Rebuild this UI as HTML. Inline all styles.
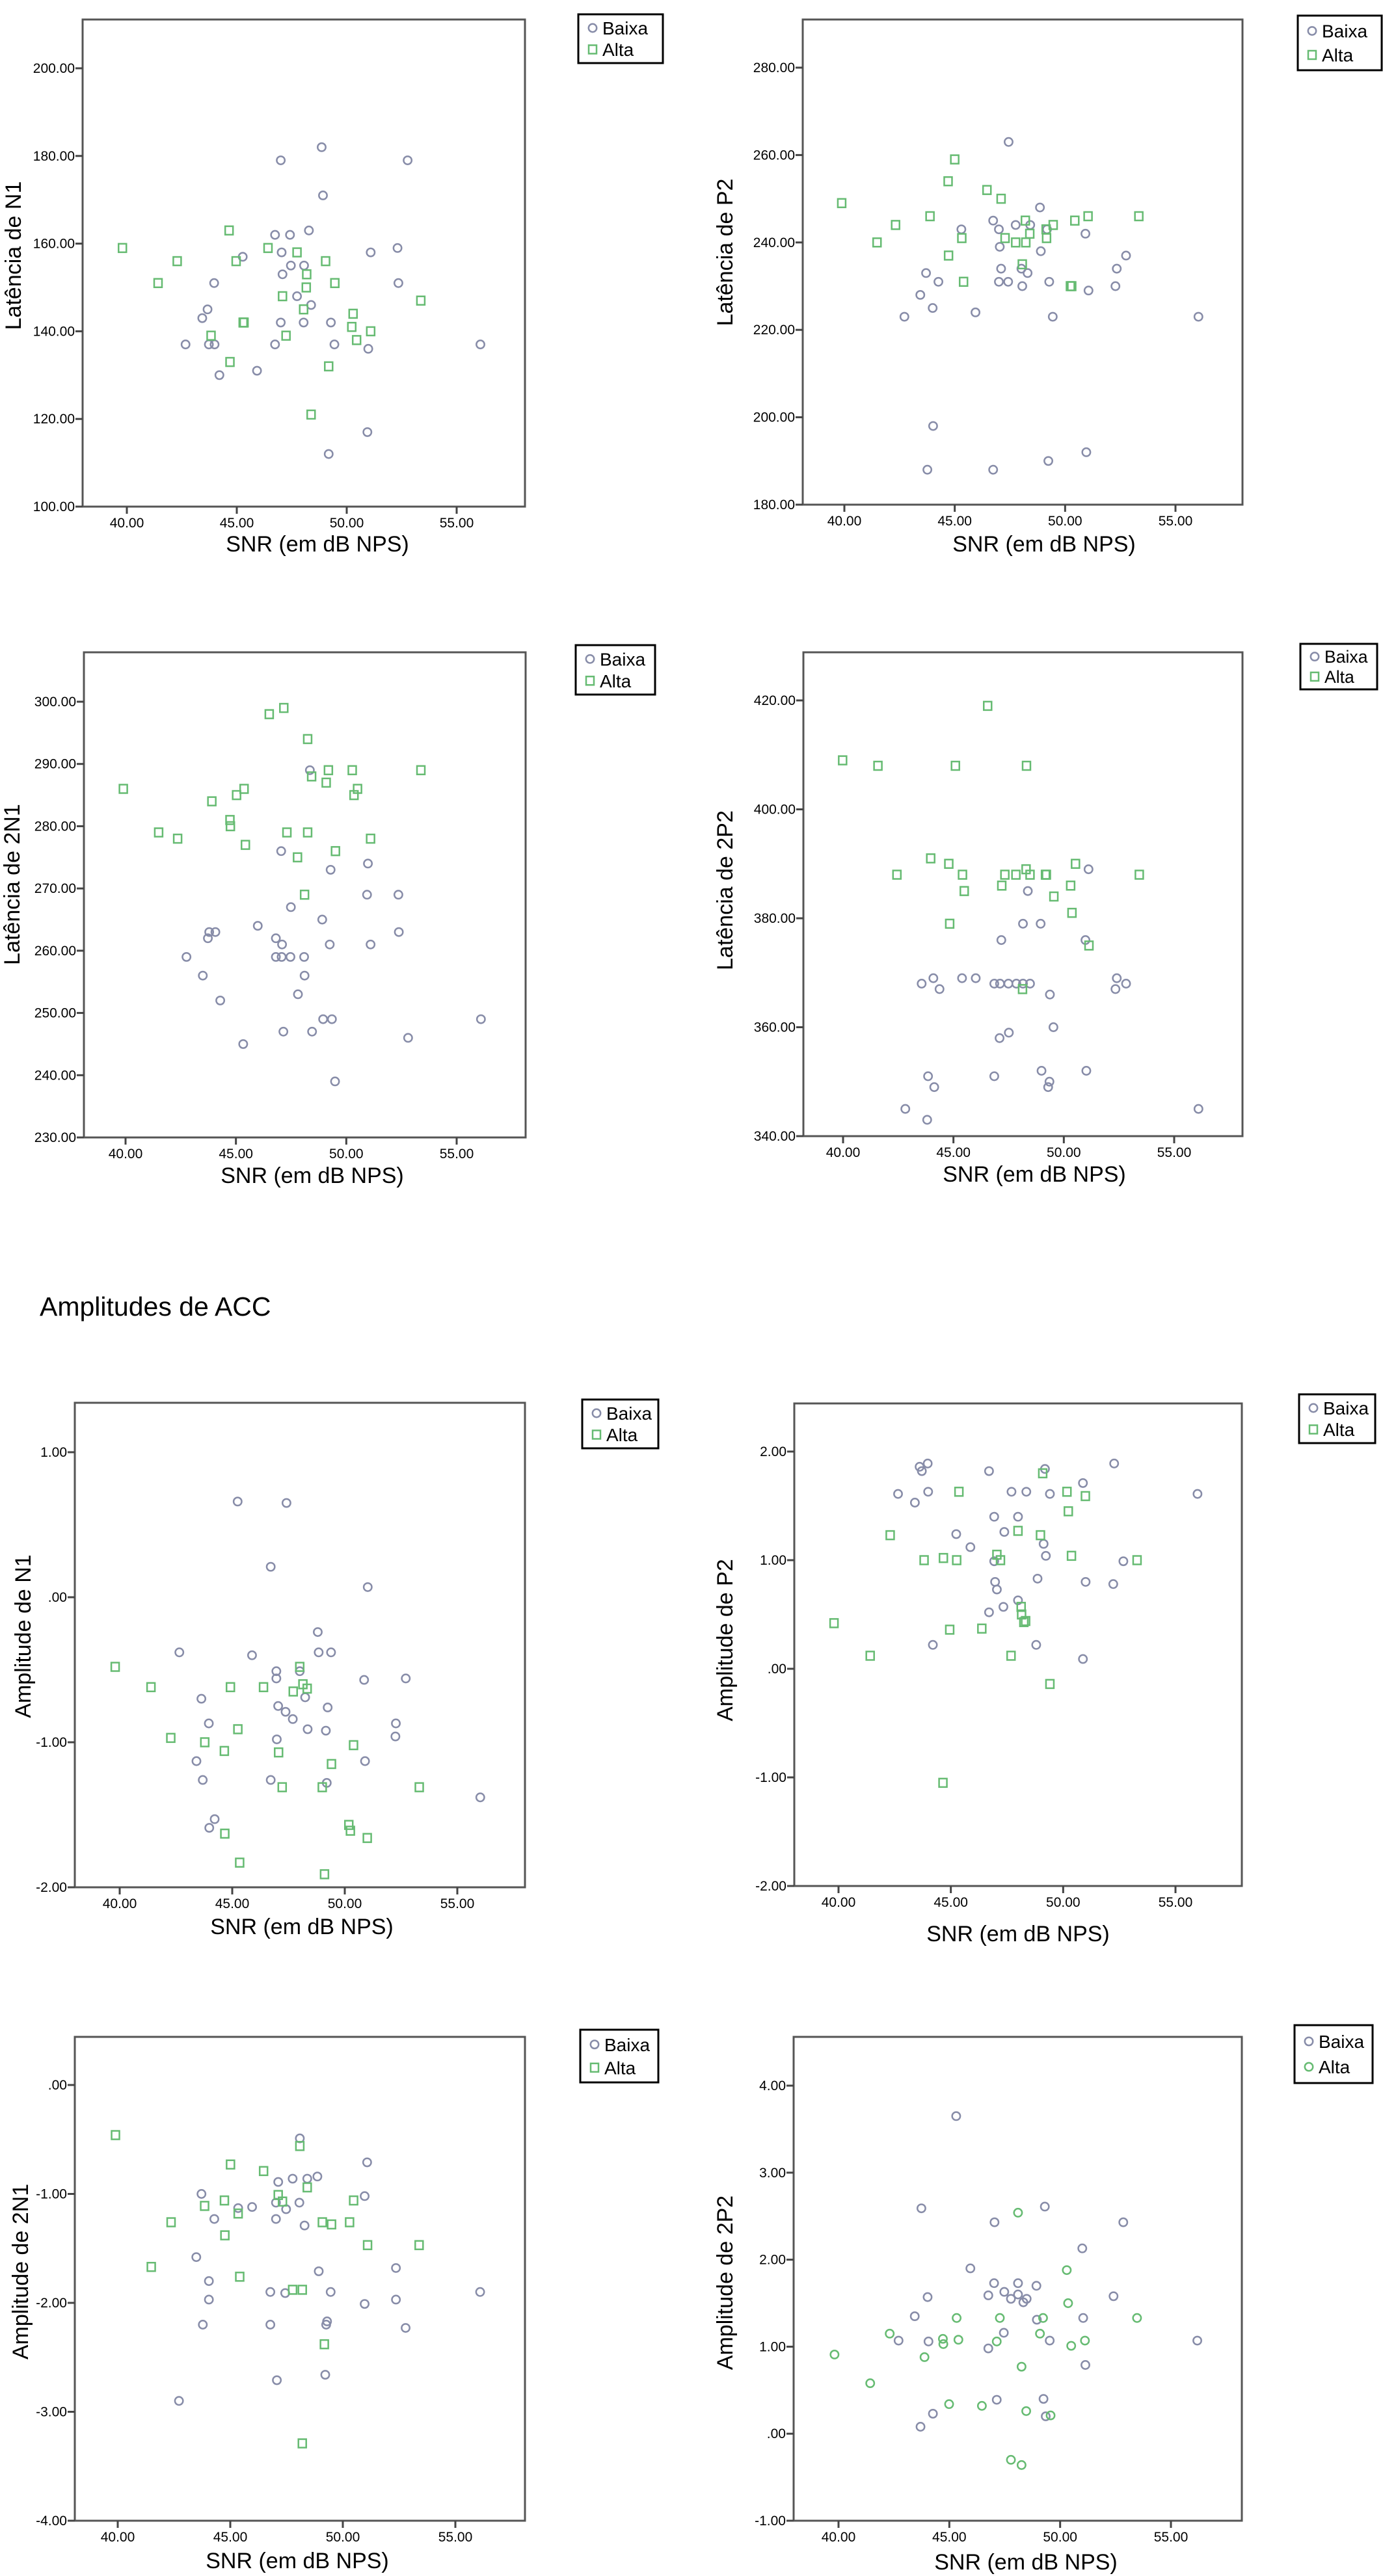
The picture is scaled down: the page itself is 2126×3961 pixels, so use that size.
<!DOCTYPE html>
<html><head><meta charset="utf-8">
<style>
html,body{margin:0;padding:0;background:#fff;}
svg{display:block;font-family:"Liberation Sans",Arial,sans-serif;}
</style></head>
<body>
<svg id="root" width="2126" height="3961" viewBox="0 0 2126 3961" xmlns="http://www.w3.org/2000/svg">
<rect x="0" y="0" width="2126" height="3961" fill="#fff"/>
<text x="61" y="2023" font-size="41" fill="#000">Amplitudes de ACC</text>
</svg>
<script>
// ---- data (SNR x values, measure y values) ----
const p1BaixaX=[48.86,47.00,52.77,48.92,48.28,46.74,47.42,47.04,51.09,52.31,45.27,47.46,48.06,47.08,43.97,52.35,47.74,48.38,43.67,43.43,47.00,48.04,49.28,42.67,43.73,43.99,46.74,49.44,50.98,56.08,45.92,44.21,50.94,49.18];
const p1BaixaY=[182,179,179,171,163,162,162,158,158,159,157,155,155,153,151,151,148,146,145,143,142,142,142,137,137,137,137,137,136,137,131,130,117,112];
const p1AltaX=[44.65,39.80,42.29,44.97,46.42,47.74,49.04,41.42,48.18,48.16,49.46,47.08,53.37,48.04,45.29,45.33,50.29,50.23,51.09,43.83,47.24,50.45,44.69,49.18,48.38];
const p1AltaY=[163,159,156,156,159,158,156,151,153,150,151,148,147,145,142,142,144,141,140,139,139,138,133,132,121];

const p2BaixaX=[47.44,48.86,46.74,45.3,47.0,47.76,48.42,49.18,50.92,47.04,48.9,52.76,47.1,48.02,48.3,43.7,52.34,44.26,47.0,47.42,49.28,48.06,52.28,51.06,43.44,44.0,45.94,42.72,49.44,56.04,44.02,50.96,49.24,43.76,46.74];
const p2BaixaY=[263,248,245,243,243,244,244,243,242,239,238,237,234,234,233,233,234,231,231,231,231,230,230,229,228,225,224,223,223,223,198,192,190,188,188];
const p2AltaX=[45.0,44.7,46.46,39.88,47.1,43.88,51.04,53.34,48.2,50.44,42.32,49.46,45.32,47.28,49.14,48.4,41.48,47.76,48.22,49.16,44.72,48.06,45.4,50.24,50.3];
const p2AltaY=[259,254,252,249,250,246,246,246,245,245,244,244,241,241,243,242,240,240,240,241,237,235,231,230,230];

const p3AltaX=[47.17,46.51,48.25,49.19,50.27,53.38,48.43,49.09,39.9,45.37,50.51,45.03,50.35,43.91,44.73,44.75,41.5,47.31,48.25,42.36,51.1,45.43,49.51,47.79,48.11];
const p3AltaY=[299,298,294,289,289,289,288,287,286,286,286,285,285,284,281,280,279,279,279,278,278,277,276,275,269];
const p3BaixaX=[48.35,47.05,50.98,49.29,50.94,52.36,47.49,48.91,45.99,43.79,44.07,52.38,43.73,46.81,47.09,49.25,51.1,42.76,46.81,47.07,47.47,48.09,43.5,48.11,47.81,44.29,48.95,49.35,56.1,47.15,48.45,52.8,45.33,49.49];
const p3BaixaY=[289,276,274,273,269,269,267,265,264,263,263,263,262,262,261,261,261,259,259,259,259,259,256,256,253,252,249,249,249,247,247,246,245,239];

const p4AltaX=[46.55,39.98,41.58,45.09,48.31,43.97,44.79,50.53,48.29,42.44,45.41,47.33,47.83,48.47,49.17,49.21,53.42,47.19,50.31,45.49,49.55,50.37,44.83,51.14,48.13];
const p4AltaY=[419,409,408,408,408,391,390,390,389,388,388,388,388,388,388,388,388,386,386,385,384,381,379,375,367];
const p4BaixaX=[51.12,48.37,48.15,48.95,47.17,50.98,44.09,45.39,46.01,52.4,43.56,46.85,47.11,47.49,47.85,48.15,48.47,52.82,44.37,52.34,49.37,49.53,47.51,47.09,48.99,51.02,43.85,46.85,49.35,44.13,49.29,42.82,56.1,43.81];
const p4BaixaY=[389,385,379,379,376,376,369,369,369,369,368,368,368,368,368,368,368,368,367,367,366,360,359,358,352,352,351,351,350,349,349,345,345,343];

const p5BaixaX=[45.24,47.41,46.71,51.02,48.8,42.65,48.84,49.39,45.88,46.96,48.0,46.96,50.86,52.71,48.24,43.63,47.04,49.24,47.37,47.69,43.96,52.27,48.35,49.16,52.25,46.98,43.41,50.9,43.69,46.71,49.2,56.02,44.22,43.98];
const p5BaixaY=[0.66,0.65,0.21,0.07,-0.24,-0.38,-0.38,-0.38,-0.40,-0.51,-0.51,-0.56,-0.57,-0.56,-0.69,-0.70,-0.75,-0.76,-0.79,-0.84,-0.87,-0.87,-0.91,-0.92,-0.96,-0.98,-1.13,-1.13,-1.26,-1.26,-1.28,-1.38,-1.53,-1.59];
const p5AltaX=[39.8,41.39,44.92,46.39,48.0,48.14,47.71,48.33,42.27,45.25,43.78,44.65,47.06,50.39,49.41,47.22,49.0,53.31,50.18,50.25,44.67,51.0,45.33,49.1];
const p5AltaY=[-0.48,-0.62,-0.62,-0.62,-0.48,-0.60,-0.65,-0.63,-0.97,-0.91,-1.0,-1.06,-1.07,-1.02,-1.15,-1.31,-1.31,-1.31,-1.57,-1.61,-1.63,-1.66,-1.83,-1.91];

const p6BaixaX=[43.97,43.61,43.71,46.7,49.19,52.27,50.88,42.65,43.99,47.7,48.36,49.41,55.98,43.4,46.93,47.99,45.24,47.38,49.13,45.87,49.23,46.93,52.68,46.97,48.86,51.0,52.23,47.05,47.99,47.34,46.7,44.2,48.8,50.88];
const p6BaixaY=[1.89,1.86,1.82,1.82,1.84,1.89,1.71,1.61,1.63,1.63,1.63,1.61,1.61,1.53,1.40,1.40,1.24,1.26,1.15,1.12,1.04,0.99,0.99,0.80,0.83,0.80,0.78,0.73,0.63,0.57,0.52,0.22,0.22,0.09];
const p6AltaX=[49.09,45.36,50.17,50.99,50.23,42.3,47.99,48.99,43.81,44.67,45.26,47.05,47.21,50.37,53.29,48.13,48.15,48.33,48.25,39.8,44.95,46.38,41.41,47.68,49.41,44.65];
const p6AltaY=[1.80,1.63,1.63,1.59,1.45,1.23,1.27,1.23,1.0,1.02,1.0,1.05,1.0,1.04,1.0,0.57,0.50,0.44,0.43,0.42,0.36,0.37,0.12,0.12,-0.14,-1.05];

const p7AltaX=[39.9,48.09,45.01,46.48,48.42,47.13,44.74,47.32,43.86,45.35,50.48,42.37,49.09,49.5,50.3,44.76,51.1,53.39,41.49,45.42,47.77,48.2,49.18,48.2];
const p7AltaY=[-0.46,-0.56,-0.73,-0.79,-0.94,-1.01,-1.06,-1.07,-1.11,-1.18,-1.06,-1.26,-1.26,-1.28,-1.26,-1.38,-1.47,-1.47,-1.67,-1.76,-1.88,-1.88,-2.38,-3.29];
const p7BaixaX=[48.09,51.08,48.87,47.77,48.42,47.13,43.72,50.97,48.07,47.03,45.35,45.97,47.48,44.29,47.03,48.3,43.49,52.36,44.05,48.93,46.78,47.44,49.46,56.1,44.05,50.97,52.36,43.78,46.78,49.26,49.3,52.79,49.22,47.07,42.72];
const p7BaixaY=[-0.49,-0.71,-0.84,-0.86,-0.86,-0.89,-1.0,-1.02,-1.08,-1.08,-1.13,-1.12,-1.14,-1.23,-1.23,-1.29,-1.58,-1.68,-1.80,-1.71,-1.90,-1.91,-1.90,-1.90,-1.97,-2.01,-1.97,-2.20,-2.20,-2.20,-2.17,-2.23,-2.66,-2.71,-2.90];

const p8BaixaX=[45.31,43.74,49.31,47.04,52.85,51.0,45.95,47.02,48.1,48.93,47.48,46.76,47.78,48.1,48.34,48.49,52.41,44.02,43.44,51.04,48.95,47.46,42.71,44.06,49.53,56.19,46.76,51.14,47.14,49.25,44.26,43.7,49.35];
const p8BaixaY=[3.65,2.59,2.61,2.43,2.43,2.13,1.90,1.73,1.73,1.70,1.63,1.59,1.55,1.60,1.51,1.55,1.58,1.57,1.35,1.33,1.31,1.16,1.07,1.06,1.07,1.07,0.98,0.79,0.39,0.40,0.23,0.08,0.20];
const p8AltaX=[48.1,50.3,50.36,45.33,47.28,49.23,53.47,42.31,49.09,44.71,45.41,44.73,51.12,47.14,50.5,39.82,43.88,48.26,41.43,44.99,46.47,48.47,49.57,47.78,48.26];
const p8AltaY=[2.54,1.88,1.50,1.33,1.33,1.33,1.33,1.15,1.15,1.09,1.08,1.03,1.07,1.06,1.01,0.91,0.88,0.77,0.58,0.34,0.32,0.26,0.21,-0.30,-0.36];

// tick label arrays
const xTickValues=[40,45,50,55];
const xTickLabels=["40.00","45.00","50.00","55.00"];
const p1YTicks=[100,120,140,160,180,200];
const p1YLabels=["100.00","120.00","140.00","160.00","180.00","200.00"];
const p2YTicks=[180,200,220,240,260,280];
const p2YLabels=["180.00","200.00","220.00","240.00","260.00","280.00"];
const p3YTicks=[230,240,250,260,270,280,290,300];
const p3YLabels=["230.00","240.00","250.00","260.00","270.00","280.00","290.00","300.00"];
const p4YTicks=[340,360,380,400,420];
const p4YLabels=["340.00","360.00","380.00","400.00","420.00"];
const p5YTicks=[-2,-1,0,1];
const p5YLabels=["-2.00","-1.00",".00","1.00"];
const p6YTicks=[-2,-1,0,1,2];
const p6YLabels=["-2.00","-1.00",".00","1.00","2.00"];
const p7YTicks=[-4,-3,-2,-1,0];
const p7YLabels=["-4.00","-3.00","-2.00","-1.00",".00"];
const p8YTicks=[-1,0,1,2,3,4];
const p8YLabels=["-1.00",".00","1.00","2.00","3.00","4.00"];

const NS="http://www.w3.org/2000/svg";
const root=document.getElementById('root');
function mk(tag,attrs,parent){const e=document.createElementNS(NS,tag);for(const k in attrs)e.setAttribute(k,attrs[k]);(parent||root).appendChild(e);return e;}

const BAIXA="#878ca8", ALTA="#66bb72";

function panel(cfg){
  const g=mk('g',{});
  
  
  const sx=v=>cfg.x40+(v-40)*(cfg.x55-cfg.x40)/15;
  const sy=v=>cfg.ya+(v-cfg.va)*(cfg.yb-cfg.ya)/(cfg.vb-cfg.va);
  const box=mk('rect',{x:cfg.l,y:cfg.t,width:cfg.r-cfg.l,height:cfg.b-cfg.t,fill:'none',stroke:'#555','stroke-width':3},g);
  
  
  xTickValues.forEach((v,i)=>{
    const x=sx(v);
    const tk=mk('line',{x1:x,x2:x,y1:cfg.b,y2:cfg.b+11,stroke:'#444','stroke-width':3},g);
    
    
    const tl=mk('text',{x:x,y:cfg.b+32,'font-size':21,'text-anchor':'middle',fill:'#000'},g);
    tl.textContent=xTickLabels[i];
    
    
  });
  cfg.yt.forEach((v,i)=>{
    const y=sy(v);
    const tk=mk('line',{x1:cfg.l-11,x2:cfg.l,y1:y,y2:y,stroke:'#444','stroke-width':3},g);
    
    
    const tl=mk('text',{x:cfg.l-12,y:y+7,'font-size':21,'text-anchor':'end',fill:'#000'},g);
    tl.textContent=cfg.yl[i];
    
    
  });
  const xt=mk('text',{x:cfg.xtx,y:cfg.xty+12,'font-size':34,'text-anchor':'middle',fill:'#000'},g);
  xt.textContent='SNR (em dB NPS)';
  
  
  const yt=mk('text',{x:0,y:0,'font-size':34,'text-anchor':'middle',fill:'#000',transform:`translate(${cfg.ytx+12},${cfg.yty}) rotate(-90)`},g);
  yt.textContent=cfg.ytitle;
  
  
  function circ(x,y,col,parent,name){
    const c=mk('circle',{cx:x,cy:y,r:6.2,fill:'none',stroke:col,'stroke-width':2.5},parent);
    
    
  }
  function sq(x,y,col,parent,name){
    const c=mk('rect',{x:x-6,y:y-6.5,width:12,height:13,fill:'none',stroke:col,'stroke-width':2.5},parent);
    
    
  }
  cfg.bx.forEach((v,i)=>circ(sx(v),sy(cfg.by[i]),BAIXA,g,'point-baixa'));
  cfg.ax.forEach((v,i)=>{ if(cfg.altaCircle) circ(sx(v),sy(cfg.ay[i]),ALTA,g,'point-alta'); else sq(sx(v),sy(cfg.ay[i]),ALTA,g,'point-alta'); });
  const L=cfg.leg;
  const lg=mk('g',{},g);
  
  
  mk('rect',{x:L[0],y:L[1],width:L[2]-L[0],height:L[3]-L[1],fill:'#fff',stroke:'#000','stroke-width':3},lg);
  const h=(L[3]-L[1]);
  const y1=L[1]+h*0.28, y2=L[1]+h*0.72;
  circ(L[0]+22,y1,BAIXA,lg,'legend-marker-baixa');
  if(cfg.altaCircle) circ(L[0]+22,y2,ALTA,lg,'legend-marker-alta'); else sq(L[0]+22,y2,ALTA,lg,'legend-marker-alta');
  const fs=Math.min(28,h*0.38);
  const t1=mk('text',{x:L[0]+37,y:y1+fs*0.36,'font-size':fs,fill:'#000'},lg); t1.textContent='Baixa';
  
  
  const t2=mk('text',{x:L[0]+37,y:y2+fs*0.36,'font-size':fs,fill:'#000'},lg); t2.textContent='Alta';
  
  
}

panel({name:'chart-latencia-n1',l:127,r:807,t:30,b:779,x40:195,x55:702,va:200,ya:105,vb:100,yb:779,yt:p1YTicks,yl:p1YLabels,ytitle:'Latência de N1',ytx:20,yty:393,xtx:488,xty:836,bx:p1BaixaX,by:p1BaixaY,ax:p1AltaX,ay:p1AltaY,leg:[889,22,1019,97]});
panel({name:'chart-latencia-p2',l:1234,r:1910,t:30,b:776,x40:1298,x55:1807,va:280,ya:104,vb:180,yb:776,yt:p2YTicks,yl:p2YLabels,ytitle:'Latência de P2',ytx:1114,yty:388,xtx:1605,xty:836,bx:p2BaixaX,by:p2BaixaY,ax:p2AltaX,ay:p2AltaY,leg:[1995,24,2124,108]});
panel({name:'chart-latencia-2n1',l:129,r:808,t:1003,b:1749,x40:193,x55:702,va:300,ya:1079,vb:230,yb:1749,yt:p3YTicks,yl:p3YLabels,ytitle:'Latência de 2N1',ytx:18,yty:1360,xtx:480,xty:1807,bx:p3BaixaX,by:p3BaixaY,ax:p3AltaX,ay:p3AltaY,leg:[885,992,1007,1068]});
panel({name:'chart-latencia-2p2',l:1235,r:1910,t:1003,b:1747,x40:1296,x55:1805,va:420,ya:1077,vb:340,yb:1747,yt:p4YTicks,yl:p4YLabels,ytitle:'Latência de 2P2',ytx:1114,yty:1369,xtx:1590,xty:1805,bx:p4BaixaX,by:p4BaixaY,ax:p4AltaX,ay:p4AltaY,leg:[1999,990,2117,1060]});
panel({name:'chart-amplitude-n1',l:115,r:807,t:2157,b:2902,x40:184,x55:703,va:1,ya:2233,vb:-2,yb:2902,yt:p5YTicks,yl:p5YLabels,ytitle:'Amplitude de N1',ytx:35,yty:2516,xtx:464,xty:2962,bx:p5BaixaX,by:p5BaixaY,ax:p5AltaX,ay:p5AltaY,leg:[895,2152,1012,2227]});
panel({name:'chart-amplitude-p2',l:1221,r:1909,t:2158,b:2900,x40:1289,x55:1807,va:2,ya:2232,vb:-1,yb:2733,yt:p6YTicks,yl:p6YLabels,ytitle:'Amplitude de P2',ytx:1114,yty:2522,xtx:1565,xty:2973,bx:p6BaixaX,by:p6BaixaY,ax:p6AltaX,ay:p6AltaY,leg:[1997,2144,2114,2219]});
panel({name:'chart-amplitude-2n1',l:115,r:807,t:3132,b:3876,x40:181,x55:700,va:0,ya:3206,vb:-4,yb:3876,yt:p7YTicks,yl:p7YLabels,ytitle:'Amplitude de 2N1',ytx:31,yty:3493,xtx:457,xty:3937,bx:p7BaixaX,by:p7BaixaY,ax:p7AltaX,ay:p7AltaY,leg:[892,3121,1012,3202]});
panel({name:'chart-amplitude-2p2',l:1220,r:1909,t:3132,b:3876,x40:1289,x55:1800,va:4,ya:3207,vb:-1,yb:3876,yt:p8YTicks,yl:p8YLabels,ytitle:'Amplitude de 2P2',ytx:1114,yty:3510,xtx:1577,xty:3939,bx:p8BaixaX,by:p8BaixaY,ax:p8AltaX,ay:p8AltaY,altaCircle:true,leg:[1990,3114,2110,3203]});
</script>
</body></html>
